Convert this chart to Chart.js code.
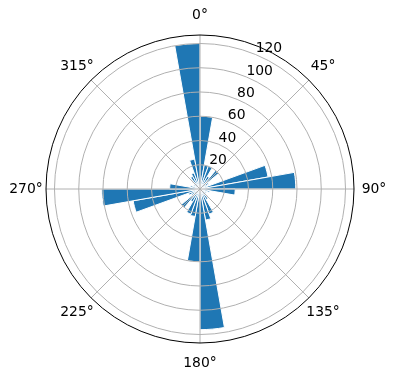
<!DOCTYPE html>
<html>
<head>
<meta charset="utf-8">
<script src="https://cdn.jsdelivr.net/npm/chart.js@4/dist/chart.umd.min.js"></script>
<style>
  html, body { margin: 0; padding: 0; background: #fff; }
  #wrap { width: 396px; height: 380px; }
</style>
</head>
<body>
<div id="wrap"><canvas id="rose"></canvas></div>
<script>
// 36 bins of 10 degrees, clockwise from north
const binStarts = [0, 10, 20, 30, 40, 50, 60, 70, 80, 90, 100, 110,
                   120, 130, 140, 150, 160, 170, 180, 190, 200, 210, 220, 230,
                   240, 250, 260, 270, 280, 290, 300, 310, 320, 330, 340, 350];
const counts = [60, 20, 20, 12, 20, 8, 6, 57, 79, 29, 8, 5,
                6, 8, 10, 22, 26, 116, 60, 23, 22, 12, 20, 8,
                10, 56, 81, 25, 8, 5, 6, 8, 12, 14, 25, 120];
const angleTicks = [0, 45, 90, 135, 180, 225, 270, 315];
const radialTicks = [20, 40, 60, 80, 100, 120];
const rMax = 127;

const tickFont = '13.9px "DejaVu Sans"';

// grid spokes, outer ring and labels, matplotlib style
const polarDecor = {
  id: 'polarDecor',
  afterDraw(chart) {
    const s = chart.scales.r;
    const c = chart.ctx;
    const cx = s.xCenter, cy = s.yCenter, R = s.drawingArea;
    c.save();
    c.strokeStyle = '#b0b0b0';
    c.lineWidth = 1;
    angleTicks.forEach(a => {
      const t = a * Math.PI / 180 - Math.PI / 2;
      c.beginPath();
      c.moveTo(cx, cy);
      c.lineTo(cx + Math.cos(t) * R, cy + Math.sin(t) * R);
      c.stroke();
    });
    c.strokeStyle = '#000';
    c.beginPath();
    c.arc(cx, cy, R, 0, Math.PI * 2);
    c.stroke();

    c.fillStyle = '#000';
    c.font = tickFont;
    c.textAlign = 'center';
    c.textBaseline = 'middle';
    angleTicks.forEach(a => {
      const t = a * Math.PI / 180 - Math.PI / 2;
      c.fillText(a + '°', cx + Math.cos(t) * (R + 20), cy + Math.sin(t) * (R + 20));
    });

    c.textAlign = 'left';
    c.textBaseline = 'bottom';
    const lt = 22.5 * Math.PI / 180 - Math.PI / 2;
    radialTicks.forEach(v => {
      const d = s.getDistanceFromCenterForValue(v);
      c.fillText(String(v), cx + Math.cos(lt) * d, cy + Math.sin(lt) * d + 1);
    });
    c.restore();
  }
};

new Chart(document.getElementById('rose'), {
  type: 'polarArea',
  data: {
    labels: binStarts.map(b => b + '°'),
    datasets: [{
      data: counts,
      backgroundColor: '#1f77b4',
      borderColor: '#ffffff',
      borderWidth: 1
    }]
  },
  options: {
    responsive: true,
    maintainAspectRatio: false,
    animation: false,
    layout: { padding: { left: 46, right: 42, top: 35, bottom: 37 } },
    plugins: { legend: { display: false }, tooltip: { enabled: false } },
    scales: {
      r: {
        min: 0,
        max: rMax,
        startAngle: 0,
        afterBuildTicks: axis => {
          axis.ticks = [0].concat(radialTicks).map(v => ({ value: v }));
        },
        ticks: { display: false },
        grid: { circular: true, color: '#b0b0b0', lineWidth: 1, z: 1 },
        angleLines: { display: false },
        pointLabels: { display: false }
      }
    }
  },
  plugins: [polarDecor]
});
</script>
</body>
</html>
